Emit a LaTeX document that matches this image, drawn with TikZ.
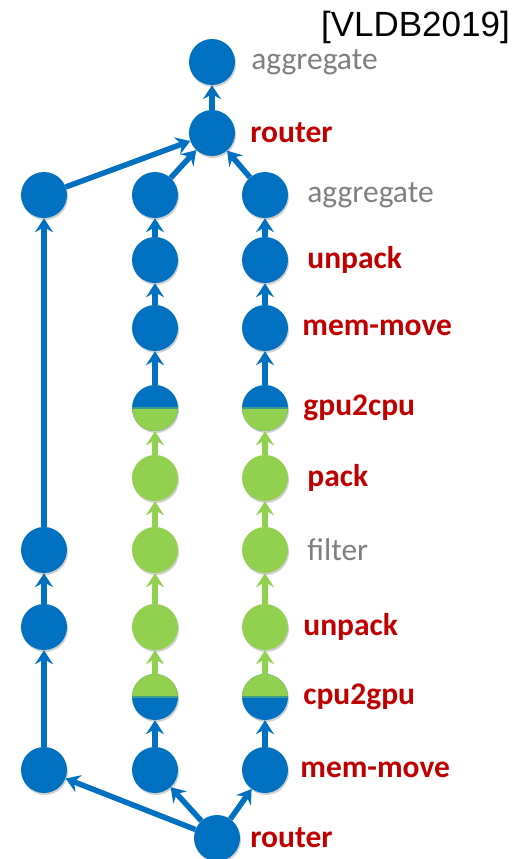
\documentclass[tikz,border=0pt]{standalone}
\usepackage{fontspec}
\setmainfont{Carlito}
\newfontfamily\refont{Liberation Sans}
\usepackage{tikz}
\usetikzlibrary{arrows.meta,positioning,shadows}

\definecolor{opblue}{HTML}{0070C0}
\definecolor{opgreen}{HTML}{92D050}
\definecolor{opred}{HTML}{C00000}
\definecolor{opgray}{HTML}{7F7F7F}
\definecolor{opseam}{HTML}{3E9C8A}

\begin{document}
\begin{tikzpicture}[
    x=1pt, y=-1pt,
    op/.style={circle, minimum size=46pt, inner sep=0pt, fill=opblue,
               drop shadow={shadow xshift=1pt, shadow yshift=-2pt,
                            opacity=0.18, fill=black}},
    gop/.style={op, fill=opgreen},
    togpu/.style={op, path picture={
        \fill[opgreen] (path picture bounding box.south west) rectangle (path picture bounding box.east);
        \draw[opseam, line width=1.2pt] (path picture bounding box.west) -- (path picture bounding box.east);}},
    tocpu/.style={op, path picture={
        \fill[opgreen] (path picture bounding box.north west) rectangle (path picture bounding box.east);
        \draw[opseam, line width=1.2pt] (path picture bounding box.west) -- (path picture bounding box.east);}},
    barr/.style={-{Stealth[length=14pt, width=18pt, inset=5pt]}, line width=5.5pt, opblue},
    garr/.style={barr, opgreen},
    hot/.style={font=\fontsize{31.5}{31.5}\selectfont\bfseries, text=opred, inner sep=0pt},
    cold/.style={font=\fontsize{31.5}{31.5}\selectfont, text=opgray, inner sep=0pt},
]
\useasboundingbox (0,0) rectangle (512,859);

\node[anchor=east, inner sep=0pt, font=\refont\fontsize{35}{35}\selectfont] (venue) at (510,27) {[VLDB2019]};

% top of the plan
\node[op] (aggTop) at (212,62) {};
\node[op] (routerTop) at (212,133) {};
\node[cold, right=16pt of aggTop] {aggregate};
\node[hot, right=15pt of routerTop] {router};

% left column: stays on the cpu
\node[op] (l1) at (44,195) {};
\node[op] (l2) at (44,550) {};
\node[op] (l3) at (44,627) {};
\node[op] (l4) at (44,770) {};

% middle column
\node[op] (m1) at (155,195) {};
\node[op] (m2) at (155,260) {};
\node[op] (m3) at (155,328) {};
\node[togpu] (m4) at (155,408) {};
\node[gop] (m5) at (155,478) {};
\node[gop] (m6) at (155,550) {};
\node[gop] (m7) at (155,627) {};
\node[tocpu] (m8) at (155,697) {};
\node[op] (m9) at (155,770) {};

% right column
\node[op] (r1) at (265,195) {};
\node[op] (r2) at (265,260) {};
\node[op] (r3) at (265,328) {};
\node[togpu] (r4) at (265,408) {};
\node[gop] (r5) at (265,478) {};
\node[gop] (r6) at (265,550) {};
\node[gop] (r7) at (265,627) {};
\node[tocpu] (r8) at (265,697) {};
\node[op] (r9) at (265,770) {};

\node[op] (routerBot) at (217,838) {};

% operator names
\node[cold, right=19pt of r1] {aggregate};
\node[hot, right=19pt of r2] {unpack};
\node[hot, right=14pt of r3] {mem-move};
\node[hot, right=15pt of r4] {gpu2cpu};
\node[hot, right=19pt of r5] {pack};
\node[cold, right=19pt of r6] {filter};
\node[hot, right=15pt of r7] {unpack};
\node[hot, right=15pt of r8] {cpu2gpu};
\node[hot, right=12pt of r9] {mem-move};
\node[hot, right=10pt of routerBot] {router};

% flow out of the bottom router
\draw[barr] (routerBot) -- (l4);
\draw[barr] (routerBot) -- (m9);
\draw[barr] (routerBot) -- (r9);

% left column
\draw[barr] (l4) -- (l3);
\draw[barr] (l3) -- (l2);
\draw[barr] (l2) -- (l1);
\draw[barr] (l1) -- (routerTop);

% middle column
\draw[barr] (m9) -- (m8);
\draw[garr] (m8) -- (m7);
\draw[garr] (m7) -- (m6);
\draw[garr] (m6) -- (m5);
\draw[garr] (m5) -- (m4);
\draw[barr] (m4) -- (m3);
\draw[barr] (m3) -- (m2);
\draw[barr] (m2) -- (m1);
\draw[barr] (m1) -- (routerTop);

% right column
\draw[barr] (r9) -- (r8);
\draw[garr] (r8) -- (r7);
\draw[garr] (r7) -- (r6);
\draw[garr] (r6) -- (r5);
\draw[garr] (r5) -- (r4);
\draw[barr] (r4) -- (r3);
\draw[barr] (r3) -- (r2);
\draw[barr] (r2) -- (r1);
\draw[barr] (r1) -- (routerTop);

\draw[barr] (routerTop) -- (aggTop);

\end{tikzpicture}
\end{document}
